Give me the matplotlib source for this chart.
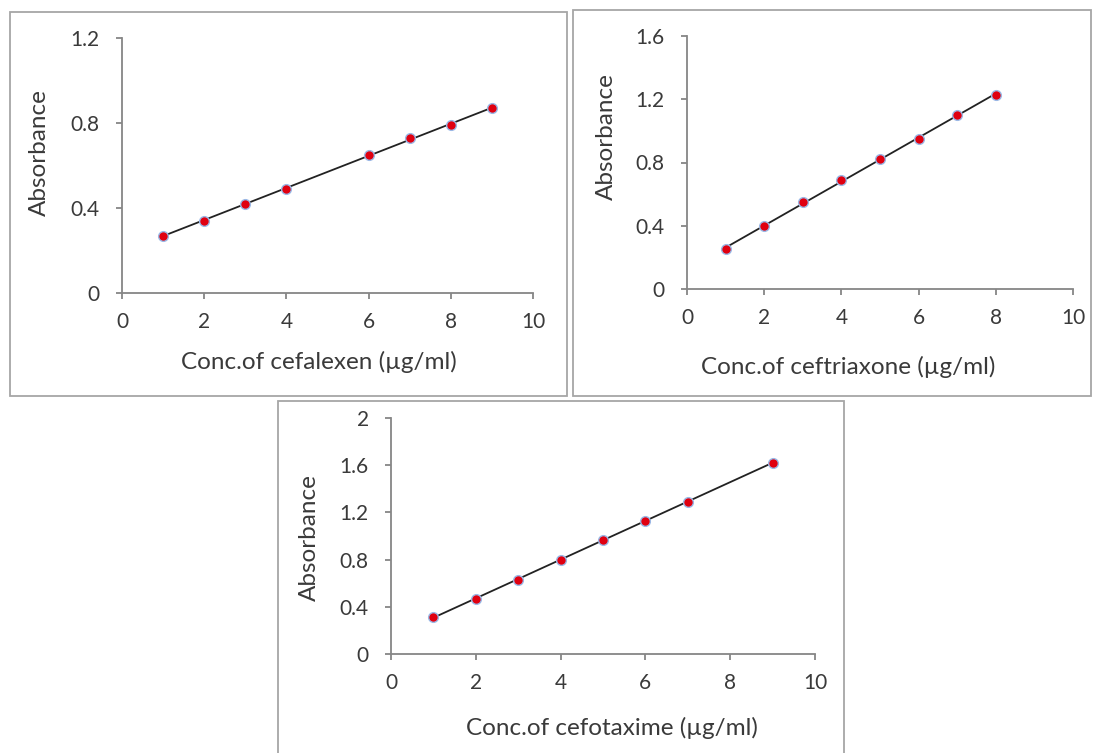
import numpy as np
import matplotlib
matplotlib.use("Agg")
import matplotlib.pyplot as plt
from matplotlib.patches import Rectangle

# calibration data
cefalexen_conc = [1, 2, 3, 4, 6, 7, 8, 9]
cefalexen_abs = [0.27, 0.34, 0.42, 0.49, 0.65, 0.73, 0.79, 0.87]

ceftriaxone_conc = [1, 2, 3, 4, 5, 6, 7, 8]
ceftriaxone_abs = [0.25, 0.40, 0.55, 0.69, 0.82, 0.95, 1.10, 1.23]

cefotaxime_conc = [1, 2, 3, 4, 5, 6, 7, 9]
cefotaxime_abs = [0.31, 0.47, 0.63, 0.80, 0.97, 1.13, 1.29, 1.62]

W, H = 1093, 753

plt.rcParams['font.family'] = ['Lato', 'DejaVu Sans']

fig = plt.figure(figsize=(W / 100, H / 100), dpi=100)
fig.patch.set_facecolor('white')


def px_axes(left, top, right, bottom):
    return [left / W, 1 - bottom / H, (right - left) / W, (bottom - top) / H]


def panel(rect, conc, absb, ymax, yticks, xlabel, xlab_pos, ylab_pos):
    ax = fig.add_axes(px_axes(*rect))
    ax.plot(conc, absb, 'o', color='#e00010', markersize=7,
            markeredgecolor='#9ab8e6', markeredgewidth=1.0, zorder=3)
    # linear trend line through the points
    slope, icpt = np.polyfit(conc, absb, 1)
    xs = np.array([conc[0], conc[-1]])
    ax.plot(xs, slope * xs + icpt, color='#222222', lw=1.3, zorder=2)

    ax.set_xlim(0, 10)
    ax.set_ylim(0, ymax)
    ax.set_xticks(range(0, 11, 2))
    ax.set_yticks(yticks)
    ax.set_yticklabels([f"{t:g}" for t in yticks])
    for s in ('top', 'right'):
        ax.spines[s].set_visible(False)
    for s in ('left', 'bottom'):
        ax.spines[s].set_color('#868686')
        ax.spines[s].set_linewidth(1.3)
    ax.tick_params(direction='out', length=4, width=1.3, color='#868686',
                   labelsize=15, labelcolor='#3a3a3a')
    ax.tick_params(axis='x', pad=10)
    ax.tick_params(axis='y', pad=12)
    ax.patch.set_alpha(0)

    ax.set_xlabel(xlabel, fontsize=17.5, color='#3a3a3a')
    ax.set_ylabel('Absorbance', fontsize=17.5, color='#3a3a3a')
    ax.xaxis.set_label_coords(xlab_pos[0] / W, 1 - xlab_pos[1] / H,
                              transform=fig.transFigure)
    ax.yaxis.set_label_coords(ylab_pos[0] / W, 1 - ylab_pos[1] / H,
                              transform=fig.transFigure)
    ax.xaxis.label.set_va('center')
    ax.yaxis.label.set_va('center')
    return ax


# outer frames around each chart
for (l, t, r, b) in [(10, 12, 567, 396), (573, 10, 1091, 396), (278, 401, 844, 760)]:
    fig.patches.append(Rectangle((l / W, 1 - b / H), (r - l) / W, (b - t) / H,
                                 transform=fig.transFigure, fill=False,
                                 edgecolor='#a6a6a6', lw=1.3))

panel((122, 38, 533, 293), cefalexen_conc, cefalexen_abs, 1.2,
      [0, 0.4, 0.8, 1.2], 'Conc.of cefalexen (µg/ml)', (319, 362), (39, 153))
panel((687, 36, 1073, 289), ceftriaxone_conc, ceftriaxone_abs, 1.6,
      [0, 0.4, 0.8, 1.2, 1.6], 'Conc.of ceftriaxone (µg/ml)', (848, 367), (606, 137))
panel((391, 418, 815, 654), cefotaxime_conc, cefotaxime_abs, 2.0,
      [0, 0.4, 0.8, 1.2, 1.6, 2], 'Conc.of cefotaxime (µg/ml)', (612, 728), (309, 538))

fig.savefig('out.png', dpi=100)
